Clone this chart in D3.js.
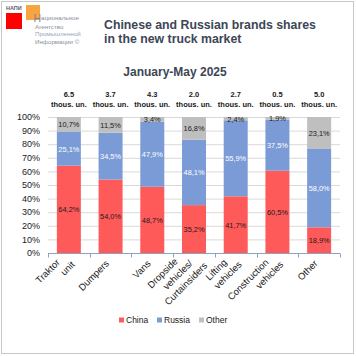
<!DOCTYPE html>
<html><head><meta charset="utf-8">
<script src="https://cdn.jsdelivr.net/npm/d3@7"></script>
<style>
html,body{margin:0;padding:0;background:#fff;}
svg{display:block;}
text{font-family:"Liberation Sans",Arial,sans-serif;}
</style></head>
<body><svg id="c" width="356" height="356"></svg>
<script>
const categories = [["Traktor","unit"],["Dumpers"],["Vans"],["Dropside","vehicles/","Curtainsiders"],["Lifting","vehicles"],["Construction","vehicles"],["Other"]];
const totals = ["6.5","3.7","4.3","2.0","2.7","0.5","5.0"];
const china  = [64.2, 54.0, 48.7, 35.2, 41.7, 60.5, 18.9];
const russia = [25.1, 34.5, 47.9, 48.1, 55.9, 37.5, 58.0];
const other  = [10.7, 11.5, 3.4, 16.8, 2.4, 1.9, 23.1];
const seriesNames = ["China","Russia","Other"];
const yTicks = [0,10,20,30,40,50,60,70,80,90,100];

const colors = {China:"#ff5a5a", Russia:"#7b9bd6", Other:"#bfbfbf"};
const labelColors = {China:"#1a1a1a", Russia:"#ffffff", Other:"#1a1a1a"};

const svg = d3.select("#c");
svg.append("rect").attr("x",1.5).attr("y",1.5).attr("width",352).attr("height",352)
  .attr("fill","#fff").attr("stroke","#c9c9c9").attr("stroke-width",1);

// logo
svg.append("text").attr("x",6).attr("y",10).attr("font-size",5.5).attr("font-weight","bold").attr("fill","#5a6070").text("НАПИ");
svg.append("rect").attr("x",6).attr("y",13).attr("width",16).attr("height",16).attr("fill","#ff0000");
svg.append("rect").attr("x",26).attr("y",5).attr("width",14).attr("height",15).attr("fill","#f7941d").attr("opacity",0.85);
svg.append("text").attr("x",33.5).attr("y",21.5).attr("font-size",10.5).attr("fill","#7d8290")
  .attr("font-family","Liberation Sans Narrow, Liberation Sans, sans-serif").text("Н");
const logoLines = [["ациональное",41,19.5],["Агентство",35,28.5],["Промышленной",35,36],["Информации ©",35,43.5]];
svg.append("g").selectAll("text").data(logoLines).join("text")
  .attr("x",d=>d[1]).attr("y",d=>d[2]).attr("font-size",6.2).attr("fill",(d,i)=>i==2?"#9aa6c0":"#8a8f9c")
  .attr("font-family","Liberation Sans Narrow, Liberation Sans, sans-serif").text(d=>d[0]);

// titles
const tcol = "#3c4656";
svg.append("text").attr("x",104).attr("y",29).attr("font-size",12.3).attr("font-weight","bold").attr("fill",tcol).text("Chinese and Russian brands shares");
svg.append("text").attr("x",104).attr("y",43).attr("font-size",12.3).attr("font-weight","bold").attr("fill",tcol).text("in the new truck market");
svg.append("text").attr("x",175).attr("y",75.5).attr("text-anchor","middle").attr("font-size",12).attr("font-weight","bold").attr("fill",tcol).text("January-May 2025");

// scales
const x = d3.scaleBand().domain(d3.range(categories.length)).range([48,340]).paddingInner(0.425).paddingOuter(0.2125);
const y = d3.scaleLinear().domain([0,100]).range([253,117]);

// grid
svg.append("g").selectAll("line").data(yTicks.filter(t=>t>0)).join("line")
  .attr("x1",48).attr("x2",340).attr("y1",d=>y(d)+0.5).attr("y2",d=>y(d)+0.5)
  .attr("stroke","#d9d9d9").attr("stroke-width",1);

// y labels
svg.append("g").selectAll("text").data(yTicks).join("text")
  .attr("x",40).attr("y",d=>y(d)+3.2).attr("text-anchor","end").attr("font-size",9).attr("fill","#1a1a1a")
  .text(d=>d+"%");

// stacks
const rows = categories.map((c,i)=>({i, China:china[i], Russia:russia[i], Other:other[i]}));
const stack = d3.stack().keys(seriesNames)(rows);
const g = svg.append("g");
stack.forEach(s=>{
  const key = s.key;
  g.append("g").selectAll("rect").data(s).join("rect")
    .attr("x",d=>x(d.data.i)).attr("width",x.bandwidth())
    .attr("y",d=>y(Math.min(100,d[1]))).attr("height",d=>y(d[0])-y(Math.min(100,d[1])))
    .attr("fill",colors[key]);
});
stack.forEach(s=>{
  const key = s.key;
  g.append("g").selectAll("text").data(s).join("text")
    .attr("x",d=>x(d.data.i)+x.bandwidth()/2)
    .attr("y",d=>(y(d[0])+y(Math.min(100,d[1])))/2+3)
    .attr("text-anchor","middle").attr("font-size",7.4).attr("fill",labelColors[key])
    .text(d=>d.data[key].toFixed(1).replace(".",",")+"%");
});

// x axis
const axisCol = "#8da2c0";
svg.append("line").attr("x1",48).attr("x2",340).attr("y1",253.5).attr("y2",253.5).attr("stroke",axisCol);
const step = x.step();
svg.append("g").selectAll("line").data(d3.range(categories.length+1)).join("line")
  .attr("x1",d=>Math.round(48+d*step)+0.5).attr("x2",d=>Math.round(48+d*step)+0.5)
  .attr("y1",253.5).attr("y2",257.5).attr("stroke",axisCol);

// totals
const tg = svg.append("g");
totals.forEach((t,i)=>{
  const cx = x(i)+x.bandwidth()/2;
  tg.append("text").attr("x",cx).attr("y",96.5).attr("text-anchor","middle").attr("font-size",7.5).attr("font-weight","bold").attr("fill","#1a1a1a").text(t);
  tg.append("text").attr("x",cx).attr("y",106.5).attr("text-anchor","middle").attr("font-size",7.5).attr("font-weight","bold").attr("fill","#1a1a1a").text("thous. un.");
});

// x labels
const xl = svg.append("g");
categories.forEach((lines,i)=>{
  const cx = x(i)+x.bandwidth()/2;
  const n = lines.length, m=(n-1)/2;
  const gg = xl.append("g").attr("transform",`translate(${cx-3},${253+9}) rotate(-45)`);
  lines.forEach((ln,j)=>{
    gg.append("text").attr("x",9*(j-m)).attr("y",12*(j-m)+3).attr("text-anchor","end")
      .attr("font-size",9.5).attr("fill","#1a1a1a").text(ln);
  });
});

// legend
const lg = svg.append("g");
const legX = [119,157,199];
seriesNames.forEach((s,i)=>{
  lg.append("rect").attr("x",legX[i]).attr("y",317.5).attr("width",5).attr("height",5).attr("fill",colors[s]);
  lg.append("text").attr("x",legX[i]+7).attr("y",323).attr("font-size",8.5).attr("fill","#1a1a1a").text(s);
});
</script></body></html>
